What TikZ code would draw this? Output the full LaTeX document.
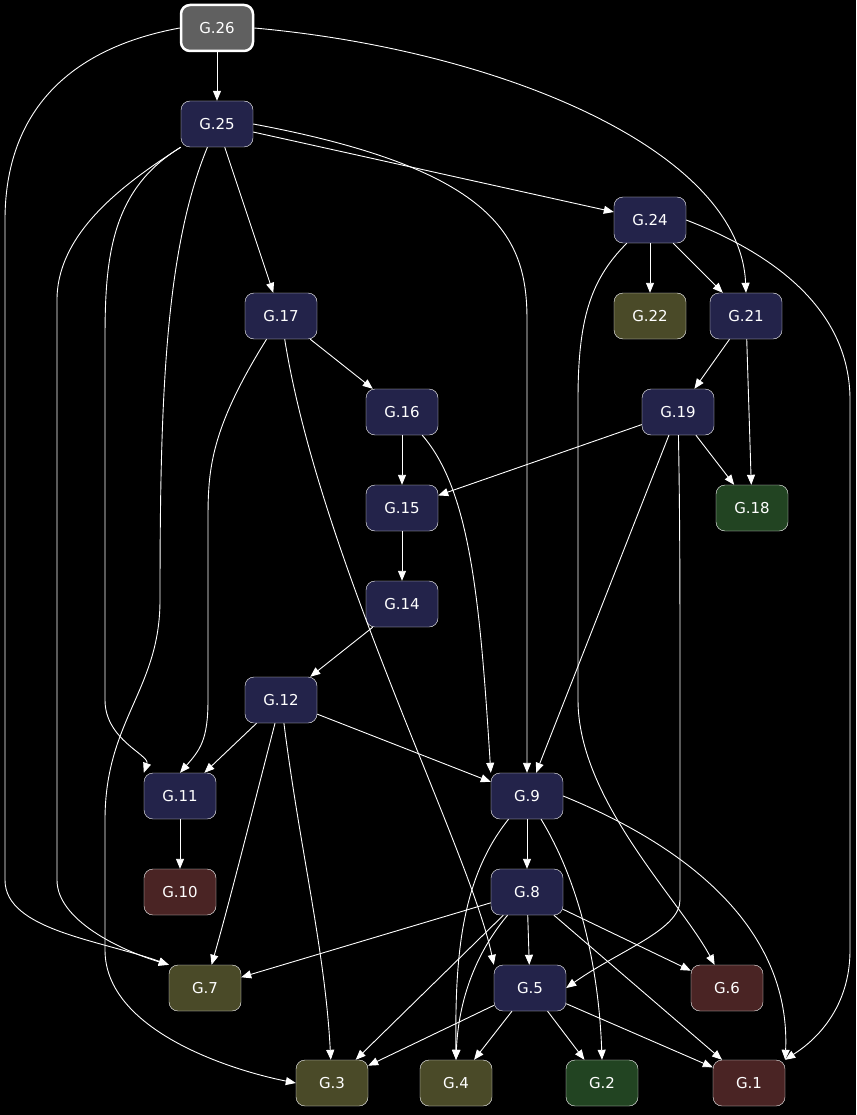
\documentclass[tikz,border=0pt]{standalone}
\usepackage{fontspec}
\setmainfont{DejaVu Sans}
\usetikzlibrary{arrows.meta}
\definecolor{nv}{HTML}{23234A}
\definecolor{ol}{HTML}{4A4A28}
\definecolor{gr}{HTML}{224422}
\definecolor{rd}{HTML}{4A2424}
\definecolor{gy}{HTML}{606060}
\begin{document}
\begin{tikzpicture}[x=1pt,y=-1pt,
 box/.style={draw=white,rounded corners=9pt,minimum width=72pt,minimum height=46pt,text=white,font=\fontsize{15}{18}\selectfont,inner sep=0pt},
 N/.style={box,fill=nv},O/.style={box,fill=ol},Gr/.style={box,fill=gr},R/.style={box,fill=rd},
 e/.style={draw=white,line width=0.9pt,-{Triangle[length=10pt,width=8pt]}}]
\fill[black] (0,0) rectangle (856,1115);
\useasboundingbox (0,0) rectangle (856,1115);
\node[box,fill=gy,line width=2.5pt] (n26) at (217,28) {G.26};
\node[N] (n25) at (217,124) {G.25};
\node[N] (n24) at (650,220) {G.24};
\node[O] (n22) at (650,316) {G.22};
\node[N] (n21) at (746,316) {G.21};
\node[N] (n17) at (281,316) {G.17};
\node[N] (n16) at (402,412) {G.16};
\node[N] (n19) at (678,412) {G.19};
\node[N] (n15) at (402,508) {G.15};
\node[Gr] (n18) at (752,508) {G.18};
\node[N] (n14) at (402,604) {G.14};
\node[N] (n12) at (281,700) {G.12};
\node[N] (n11) at (180,796) {G.11};
\node[N] (n9) at (527,796) {G.9};
\node[R] (n10) at (180,892) {G.10};
\node[N] (n8) at (527,892) {G.8};
\node[O] (n7) at (205,988) {G.7};
\node[N] (n5) at (530,988) {G.5};
\node[R] (n6) at (727,988) {G.6};
\node[O] (n3) at (332,1083) {G.3};
\node[O] (n4) at (456,1083) {G.4};
\node[Gr] (n2) at (602,1083) {G.2};
\node[R] (n1) at (749,1083) {G.1};
% edges
\draw[e] (n26) -- (n25);
\draw[e] (n26.west) .. controls (60,50) and (5,120) .. (5,220) -- (5,880) .. controls (5,930) and (100,940) .. (n7.north west);
\draw[e] (n26.east) .. controls (500,50) and (740,150) .. (n21.north);
\draw[e] (n25) -- (n24);
\draw[e] (n25) -- (n17);
\draw[e] (n25.east) .. controls (500,170) and (527,240) .. (527,320) -- (n9.north);
\draw[e] (n25.south west) .. controls (110,190) and (105,260) .. (105,340) -- (105,700) .. controls (105,740) and (150,755) .. (n11.north west);
\draw[e] (n25.south west) .. controls (130,180) and (57,230) .. (57,300) -- (57,880) .. controls (57,920) and (120,950) .. (n7.north west);
\draw[e] (n25) .. controls (165,250) and (160,400) .. (160,600) .. controls (160,690) and (105,720) .. (105,820) -- (105,950) .. controls (105,1030) and (230,1070) .. (n3.west);
\draw[e] (n24) -- (n22);
\draw[e] (n24) -- (n21);
\draw[e] (n24) .. controls (590,280) and (578,320) .. (578,400) -- (578,700) .. controls (578,800) and (680,900) .. (n6);
\draw[e] (n24.east) .. controls (790,260) and (850,320) .. (850,400) -- (850,950) .. controls (850,1020) and (800,1050) .. (n1.north east);
\draw[e] (n21) -- (n19);
\draw[e] (n21) -- (n18);
\draw[e] (n17) -- (n16);
\draw[e] (n17) .. controls (210,430) and (208,470) .. (208,520) -- (208,700) .. controls (208,740) and (200,750) .. (n11.north);
\draw[e] (n17) .. controls (320,560) and (470,850) .. (n5.north west);
\draw[e] (n16) -- (n15);
\draw[e] (n16) .. controls (470,490) and (480,600) .. (n9.north west);
\draw[e] (n19) -- (n15);
\draw[e] (n19) -- (n18);
\draw[e] (n19) -- (n9);
\draw[e] (n19) .. controls (680,520) and (680,600) .. (680,700) -- (680,900) .. controls (680,930) and (620,950) .. (n5.east);
\draw[e] (n15) -- (n14);
\draw[e] (n14) -- (n12);
\draw[e] (n12) -- (n11);
\draw[e] (n12) -- (n9);
\draw[e] (n12) .. controls (250,820) and (230,900) .. (n7);
\draw[e] (n12) .. controls (300,850) and (325,950) .. (n3);
\draw[e] (n11) -- (n10);
\draw[e] (n9) -- (n8);
\draw[e] (n9) .. controls (460,880) and (455,960) .. (n4.north);
\draw[e] (n9) .. controls (590,900) and (600,1000) .. (n2.north);
\draw[e] (n9.east) .. controls (720,860) and (790,950) .. (n1.north east);
\draw[e] (n8) -- (n7);
\draw[e] (n8) -- (n5);
\draw[e] (n8) -- (n6);
\draw[e] (n8) -- (n3);
\draw[e] (n8) .. controls (470,960) and (458,1010) .. (n4.north);
\draw[e] (n8) -- (n1);
\draw[e] (n5) -- (n3);
\draw[e] (n5) -- (n4);
\draw[e] (n5) -- (n2);
\draw[e] (n5) -- (n1);
\end{tikzpicture}
\end{document}
